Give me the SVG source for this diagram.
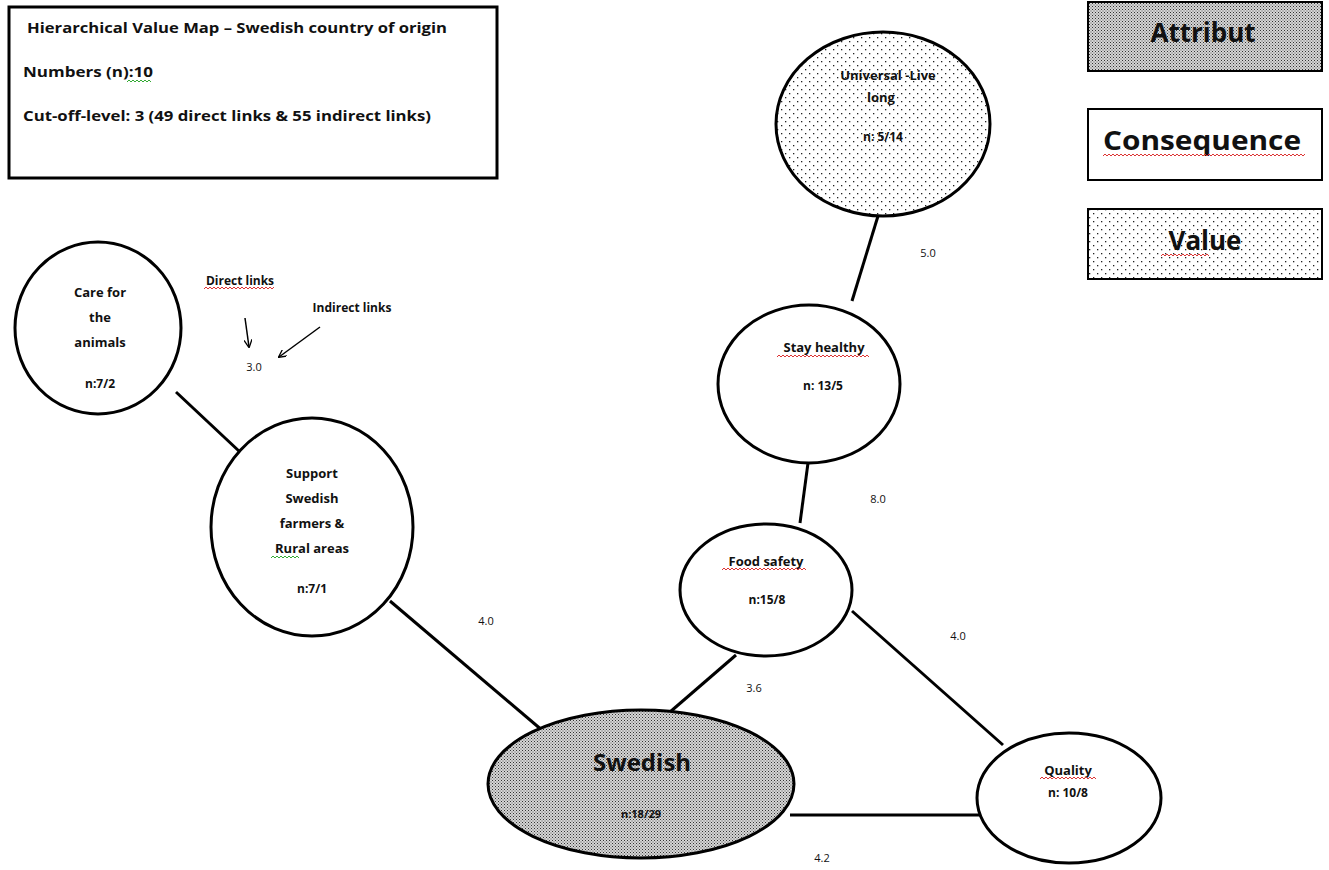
<svg xmlns="http://www.w3.org/2000/svg" width="1329" height="870" viewBox="0 0 1329 870">
<style>
.t{font-family:"Open Sans","Liberation Sans",sans-serif;font-weight:bold;fill:#111;}
.n{font-family:"Open Sans","Liberation Sans",sans-serif;font-size:11px;fill:#111;}
.node{stroke:#000;stroke-width:3;}
.c{stroke:#000;stroke-width:3;fill:none;}
.sq{stroke:#d33;stroke-width:1;fill:none;}
.sg{stroke:#3a3;stroke-width:1;fill:none;}
</style>
<defs>
<pattern id="dense" width="3" height="3" patternUnits="userSpaceOnUse">
<rect width="3" height="3" fill="#d6d6d6"/>
<rect width="1" height="1" fill="#333"/>
<rect x="1.5" y="1.5" width="1" height="1" fill="#555"/>
</pattern>
<pattern id="sparse" width="8" height="8" patternUnits="userSpaceOnUse">
<rect width="8" height="8" fill="#fff"/>
<rect x="1" y="1" width="1.3" height="1.3" fill="#222"/>
<rect x="5" y="5" width="1.3" height="1.3" fill="#222"/>
</pattern>
<marker id="ah" viewBox="0 0 10 10" refX="9" refY="5" markerWidth="8" markerHeight="8" orient="auto-start-reverse" markerUnits="userSpaceOnUse">
<path d="M0,0 L10,5 L0,10" fill="none" stroke="#000" stroke-width="1.6"/>
</marker>
</defs>
<rect width="1329" height="870" fill="#fff"/>

<g id="info">
<rect x="9" y="7" width="488" height="171" fill="#fff" stroke="#000" stroke-width="3"/>
<text class="t" x="27" y="33" font-size="14" textLength="420" lengthAdjust="spacingAndGlyphs">Hierarchical Value Map – Swedish country of origin</text>
<text class="t" x="23" y="77" font-size="14" textLength="130" lengthAdjust="spacingAndGlyphs">Numbers (n):10</text>
<path class="sg" d="M127,82 l2,-2 l2,2 l2,-2 l2,2 l2,-2 l2,2 l2,-2 l2,2 l2,-2 l2,2 l2,-2 l2,2"/>
<text class="t" x="23" y="121" font-size="14" textLength="408" lengthAdjust="spacingAndGlyphs">Cut-off-level: 3 (49 direct links &amp; 55 indirect links)</text>
</g>

<g id="legend">
<g id="legend-attribut">
<rect x="1088" y="2" width="234" height="69" fill="url(#dense)" stroke="#000" stroke-width="2"/>
<text class="t" x="1203" y="42" font-size="26" text-anchor="middle" fill="#000">Attribut</text>
</g>
<g id="legend-consequence">
<rect x="1088" y="109" width="234" height="71" fill="#fff" stroke="#000" stroke-width="2"/>
<text class="t" x="1202" y="150" font-size="26" text-anchor="middle" textLength="198" lengthAdjust="spacingAndGlyphs">Consequence</text>
<path class="sq" d="M1103,156 l2,-2 l2,2 l2,-2 l2,2 l2,-2 l2,2 l2,-2 l2,2 l2,-2 l2,2 l2,-2 l2,2 l2,-2 l2,2 l2,-2 l2,2 l2,-2 l2,2 l2,-2 l2,2 l2,-2 l2,2 l2,-2 l2,2 l2,-2 l2,2 l2,-2 l2,2 l2,-2 l2,2 l2,-2 l2,2 l2,-2 l2,2 l2,-2 l2,2 l2,-2 l2,2 l2,-2 l2,2 l2,-2 l2,2 l2,-2 l2,2 l2,-2 l2,2 l2,-2 l2,2 l2,-2 l2,2 l2,-2 l2,2 l2,-2 l2,2 l2,-2 l2,2 l2,-2 l2,2 l2,-2 l2,2 l2,-2 l2,2 l2,-2 l2,2 l2,-2 l2,2 l2,-2 l2,2 l2,-2 l2,2 l2,-2 l2,2 l2,-2 l2,2 l2,-2 l2,2 l2,-2 l2,2 l2,-2 l2,2 l2,-2 l2,2 l2,-2 l2,2 l2,-2 l2,2 l2,-2 l2,2 l2,-2 l2,2 l2,-2 l2,2 l2,-2 l2,2 l2,-2 l2,2 l2,-2 l2,2 l2,-2 l2,2 l2,-2"/>
</g>
<g id="legend-value">
<rect x="1088" y="209" width="234" height="70" fill="url(#sparse)" stroke="#000" stroke-width="2"/>
<text class="t" x="1205" y="250" font-size="26" text-anchor="middle">Value</text>
<path class="sq" d="M1161,256 l2,-2 l2,2 l2,-2 l2,2 l2,-2 l2,2 l2,-2 l2,2 l2,-2 l2,2 l2,-2 l2,2 l2,-2 l2,2 l2,-2 l2,2 l2,-2 l2,2 l2,-2 l2,2 l2,-2 l2,2 l2,-2 l2,2"/>
</g>
</g>

<g id="connectors">
<line class="c" x1="878" y1="216" x2="852" y2="301"/>
<line class="c" x1="808" y1="463" x2="800" y2="523" stroke-width="4"/>
<line class="c" x1="176" y1="392" x2="240" y2="452"/>
<line class="c" x1="390" y1="601" x2="543" y2="731"/>
<line class="c" x1="736" y1="655" x2="670" y2="712"/>
<line class="c" x1="852" y1="611" x2="1003" y2="745"/>
<line class="c" x1="790" y1="815" x2="984" y2="815"/>
<line x1="245" y1="318" x2="249" y2="347" stroke="#000" stroke-width="1.5" marker-end="url(#ah)"/>
<line x1="320" y1="327" x2="279" y2="357" stroke="#000" stroke-width="1.5" marker-end="url(#ah)"/>
</g>

<g id="labels">
<text class="n" x="928" y="257" text-anchor="middle">5.0</text>
<text class="n" x="878" y="503" text-anchor="middle">8.0</text>
<text class="n" x="486" y="625" text-anchor="middle">4.0</text>
<text class="n" x="754" y="692" text-anchor="middle">3.6</text>
<text class="n" x="958" y="640" text-anchor="middle">4.0</text>
<text class="n" x="822" y="862" text-anchor="middle">4.2</text>
<text class="n" x="254" y="371" text-anchor="middle">3.0</text>
<text class="t" x="240" y="285" font-size="12" text-anchor="middle">Direct links</text>
<path class="sq" d="M204,289 l2,-2 l2,2 l2,-2 l2,2 l2,-2 l2,2 l2,-2 l2,2 l2,-2 l2,2 l2,-2 l2,2 l2,-2 l2,2 l2,-2 l2,2 l2,-2 l2,2 l2,-2 l2,2 l2,-2 l2,2 l2,-2 l2,2 l2,-2 l2,2 l2,-2 l2,2 l2,-2 l2,2 l2,-2 l2,2 l2,-2 l2,2 l2,-2"/>
<text class="t" x="352" y="312" font-size="12" text-anchor="middle">Indirect links</text>
</g>

<g id="node-universal">
<ellipse class="node" cx="883" cy="124" rx="107" ry="92" fill="url(#sparse)"/>
<text class="t" x="888" y="80" font-size="13" text-anchor="middle">Universal -Live</text>
<text class="t" x="881" y="102" font-size="13" text-anchor="middle">long</text>
<text class="t" x="883" y="141" font-size="12" text-anchor="middle">n: 5/14</text>
</g>

<g id="node-stay-healthy">
<ellipse class="node" cx="809" cy="384" rx="91" ry="79" fill="#fff"/>
<text class="t" x="824" y="352" font-size="13" text-anchor="middle">Stay healthy</text>
<path class="sq" d="M777,357 l2,-2 l2,2 l2,-2 l2,2 l2,-2 l2,2 l2,-2 l2,2 l2,-2 l2,2 l2,-2 l2,2 l2,-2 l2,2 l2,-2 l2,2 l2,-2 l2,2 l2,-2 l2,2 l2,-2 l2,2 l2,-2 l2,2 l2,-2 l2,2 l2,-2 l2,2 l2,-2 l2,2 l2,-2 l2,2 l2,-2 l2,2 l2,-2 l2,2 l2,-2 l2,2 l2,-2 l2,2 l2,-2 l2,2 l2,-2 l2,2 l2,-2 l2,2"/>
<text class="t" x="823" y="390" font-size="12" text-anchor="middle">n: 13/5</text>
</g>

<g id="node-care">
<ellipse class="node" cx="98" cy="328" rx="83" ry="86" fill="#fff"/>
<text class="t" x="100" y="297" font-size="13" text-anchor="middle">Care for</text>
<text class="t" x="100" y="322" font-size="13" text-anchor="middle">the</text>
<text class="t" x="100" y="347" font-size="13" text-anchor="middle">animals</text>
<text class="t" x="100" y="388" font-size="12" text-anchor="middle">n:7/2</text>
</g>

<g id="node-support">
<ellipse class="node" cx="312" cy="527" rx="101" ry="109" fill="#fff"/>
<text class="t" x="312" y="478" font-size="13" text-anchor="middle">Support</text>
<text class="t" x="312" y="503" font-size="13" text-anchor="middle">Swedish</text>
<text class="t" x="312" y="528" font-size="13" text-anchor="middle">farmers &amp;</text>
<text class="t" x="312" y="553" font-size="13" text-anchor="middle">Rural areas</text>
<path class="sg" d="M271,558 l2,-2 l2,2 l2,-2 l2,2 l2,-2 l2,2 l2,-2 l2,2 l2,-2 l2,2 l2,-2 l2,2 l2,-2 l2,2"/>
<text class="t" x="312" y="593" font-size="12" text-anchor="middle">n:7/1</text>
</g>

<g id="node-food-safety">
<ellipse class="node" cx="766" cy="590" rx="86" ry="66" fill="#fff"/>
<text class="t" x="766" y="566" font-size="13" text-anchor="middle">Food safety</text>
<path class="sq" d="M722,570 l2,-2 l2,2 l2,-2 l2,2 l2,-2 l2,2 l2,-2 l2,2 l2,-2 l2,2 l2,-2 l2,2 l2,-2 l2,2 l2,-2 l2,2 l2,-2 l2,2 l2,-2 l2,2 l2,-2 l2,2 l2,-2 l2,2 l2,-2 l2,2 l2,-2 l2,2 l2,-2 l2,2 l2,-2 l2,2 l2,-2 l2,2 l2,-2 l2,2 l2,-2 l2,2 l2,-2 l2,2 l2,-2 l2,2"/>
<text class="t" x="767" y="604" font-size="12" text-anchor="middle">n:15/8</text>
</g>

<g id="node-swedish">
<ellipse class="node" cx="641" cy="784" rx="153" ry="74" fill="url(#dense)"/>
<text class="t" x="642" y="771" font-size="24" text-anchor="middle">Swedish</text>
<text class="t" x="641" y="818" font-size="11" text-anchor="middle" fill="#333">n:18/29</text>
</g>

<g id="node-quality">
<ellipse class="node" cx="1069" cy="798" rx="92" ry="65" fill="#fff"/>
<text class="t" x="1068" y="775" font-size="13" text-anchor="middle">Quality</text>
<path class="sq" d="M1040,779 l2,-2 l2,2 l2,-2 l2,2 l2,-2 l2,2 l2,-2 l2,2 l2,-2 l2,2 l2,-2 l2,2 l2,-2 l2,2 l2,-2 l2,2 l2,-2 l2,2 l2,-2 l2,2 l2,-2 l2,2 l2,-2 l2,2 l2,-2 l2,2 l2,-2 l2,2"/>
<text class="t" x="1068" y="797" font-size="12" text-anchor="middle">n: 10/8</text>
</g>
</svg>
